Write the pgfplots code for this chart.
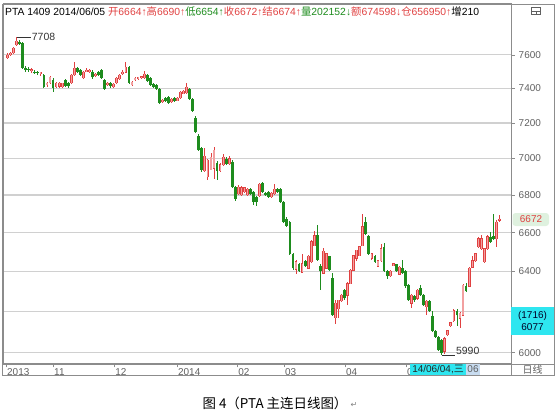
\documentclass[border=0pt]{standalone}
\usepackage{pgfplots}
\pgfplotsset{compat=1.18}
\usepackage{pgfplotstable}
\usepackage{fontspec}
\setmainfont{Liberation Sans}
\newfontfamily\cjk{Noto Sans CJK SC}
\newfontfamily\sym{DejaVu Sans}
\newcommand\hc[1]{{\cjk #1}}

\definecolor{upred}{HTML}{E04040}
\definecolor{uppink}{HTML}{F2A0A0}
\definecolor{dngreen}{HTML}{1E8C1E}
\definecolor{gridc}{HTML}{D0D0D0}
\definecolor{framec}{HTML}{8C8C8C}
\definecolor{labc}{HTML}{606060}
\definecolor{curcyan}{HTML}{2EE6F0}
\definecolor{curblue}{HTML}{C8DCF0}

% daily bars, PTA main contract: index, open, high, low, close
\pgfplotstableread{
i o h l c
0 7582 7610 7575 7600
1 7600 7620 7595 7612
2 7612 7650 7605 7642
3 7660 7708 7655 7685
4 7680 7690 7660 7668
5 7673 7680 7515 7522
6 7522 7535 7500 7512
7 7515 7530 7495 7510
8 7505 7520 7490 7512
9 7500 7510 7485 7490
10 7495 7505 7480 7492
11 7485 7500 7475 7495
12 7480 7485 7405 7410
13 7421 7440 7410 7433
14 7433 7475 7425 7468
15 7450 7460 7380 7403
16 7409 7440 7400 7433
17 7412 7440 7405 7433
18 7410 7435 7400 7430
19 7450 7455 7410 7415
20 7433 7440 7405 7412
21 7433 7485 7425 7480
22 7480 7558 7475 7522
23 7522 7530 7490 7498
24 7510 7515 7475 7480
25 7462 7505 7455 7498
26 7500 7520 7495 7510
27 7498 7515 7490 7510
28 7500 7510 7455 7465
29 7475 7490 7468 7485
30 7498 7502 7475 7480
31 7510 7515 7455 7462
32 7450 7455 7390 7398
33 7421 7440 7412 7433
34 7433 7438 7405 7412
35 7410 7432 7400 7428
36 7433 7468 7428 7462
37 7455 7485 7450 7480
38 7485 7510 7480 7498
39 7495 7558 7490 7528
40 7528 7535 7425 7433
41 7421 7445 7415 7439
42 7450 7468 7445 7462
43 7455 7470 7450 7465
44 7462 7475 7455 7470
45 7462 7505 7458 7485
46 7480 7488 7440 7445
47 7462 7468 7415 7421
48 7427 7432 7405 7410
49 7421 7425 7392 7398
50 7398 7400 7310 7316
51 7322 7340 7315 7334
52 7345 7350 7325 7330
53 7350 7355 7310 7316
54 7322 7345 7318 7340
55 7345 7350 7320 7325
56 7330 7350 7325 7345
57 7345 7385 7340 7380
58 7370 7392 7365 7385
59 7375 7433 7370 7409
60 7398 7405 7335 7340
61 7340 7345 7262 7270
62 7231 7240 7145 7149
63 7127 7135 7045 7049
64 7060 7066 6925 6939
65 6931 7060 6925 7011
66 6900 7000 6880 6990
67 6939 7030 6935 7005
68 6945 7066 6890 7049
69 6977 6985 6880 6931
70 6931 6975 6925 6966
71 6966 7025 6960 7005
72 7000 7010 6965 6970
73 6970 7015 6965 7000
74 6983 6990 6838 6842
75 6842 6848 6770 6778
76 6805 6855 6800 6842
77 6800 6850 6795 6840
78 6815 6845 6810 6840
79 6800 6835 6795 6830
80 6831 6840 6800 6805
81 6815 6820 6745 6762
82 6790 6795 6740 6760
83 6795 6865 6790 6858
84 6865 6870 6810 6815
85 6810 6815 6795 6800
86 6815 6820 6785 6790
87 6790 6815 6785 6810
88 6805 6860 6800 6831
89 6831 6836 6810 6815
90 6831 6840 6758 6762
91 6762 6768 6650 6657
92 6672 6680 6630 6636
93 6657 6662 6485 6491
94 6491 6495 6405 6415
95 6410 6460 6385 6450
96 6440 6445 6395 6400
97 6395 6491 6390 6440
98 6455 6460 6420 6425
99 6415 6482 6410 6476
100 6450 6560 6445 6553
101 6532 6610 6528 6584
102 6590 6640 6455 6460
103 6430 6435 6304 6400
104 6390 6520 6385 6502
105 6415 6495 6410 6491
106 6476 6480 6400 6405
107 6364 6390 6175 6180
108 6170 6254 6140 6239
109 6214 6258 6170 6254
110 6250 6285 6245 6280
111 6304 6310 6258 6264
112 6279 6345 6230 6339
113 6339 6410 6335 6405
114 6405 6485 6400 6481
115 6466 6510 6455 6507
116 6481 6530 6476 6527
117 6532 6699 6528 6631
118 6657 6680 6590 6595
119 6584 6590 6486 6491
120 6466 6495 6460 6491
121 6481 6486 6445 6450
122 6425 6460 6420 6455
123 6455 6543 6450 6517
124 6527 6545 6395 6400
125 6400 6405 6360 6375
126 6375 6405 6370 6400
127 6430 6445 6425 6440
128 6435 6440 6395 6400
129 6385 6425 6380 6420
130 6415 6460 6385 6390
131 6400 6405 6318 6324
132 6330 6335 6250 6254
133 6239 6285 6215 6279
134 6274 6280 6248 6254
135 6264 6310 6258 6304
136 6314 6330 6275 6279
137 6279 6284 6225 6229
138 6224 6255 6180 6249
139 6249 6254 6200 6204
140 6175 6200 6100 6106
141 6106 6110 6072 6077
142 6077 6080 6006 6011
143 6060 6065 5990 6000
144 6006 6075 5995 6068
145 6085 6110 6080 6106
146 6130 6150 6125 6145
147 6155 6210 6150 6204
148 6204 6210 6130 6180
149 6165 6195 6120 6190
150 6180 6335 6175 6330
151 6324 6340 6295 6299
152 6324 6420 6320 6415
153 6420 6481 6415 6455
154 6455 6495 6450 6491
155 6527 6575 6520 6569
156 6517 6590 6512 6569
157 6450 6522 6445 6517
158 6517 6585 6512 6579
159 6579 6605 6548 6553
160 6584 6699 6560 6569
161 6569 6665 6527 6657
162 6664 6690 6654 6672
}\kline

\pgfplotsset{
  rising/.style={restrict expr to domain={\thisrow{c}-\thisrow{o}}{0:10000}},
  falling/.style={restrict expr to domain={\thisrow{o}-\thisrow{c}}{0.5:10000}},
  candle/.style 2 args={draw=none, mark=none, forget plot,
    error bars/.cd, y dir=both, y explicit, error mark=none,
    error bar style={draw=#1, line width=#2, line cap=butt}},
}

\begin{document}
\begin{tikzpicture}[x=1bp,y=1bp]
\begin{axis}[
  at={(3bp,48bp)}, anchor=south west,
  width=508bp, height=360bp, scale only axis,
  ymode=log,
  xmin=-1.48, xmax=165.8,
  ymin=5947, ymax=7914,
  axis line style={framec, line width=0.8bp},
  ymajorgrids, grid style={gridc, line width=1.2bp},
  ytick={6000,6200,6400,6600,6800,7000,7200,7400,7600},
  yticklabels={6000,6200,6400,6600,6800,7000,7200,7400,7600},
  ytick pos=right, yticklabel pos=right,
  xtick={-0.5,15.0,35.1,55.8,75.6,91.0,111.1,131.2,151.3},
  xticklabels={2013,11,12,2014,02,03,04,05,{}},
  xtick pos=bottom,
  tick align=outside, major tick length=3.5bp,
  tick style={framec, line width=0.6bp},
  minor tick num=0, minor tick length=0pt,
  yticklabel style={anchor=west, inner sep=0pt, xshift=4bp,
    font=\fontsize{10}{10}\selectfont, text=labc},
  xticklabel style={anchor=north west, inner sep=0pt, xshift=1bp, yshift=-1.5bp,
    font=\fontsize{10}{10}\selectfont, text=labc},
  clip=true,
]
% wicks
\addplot[rising, candle={upred}{0.9bp}]
  table[x=i, y=c, y error plus expr=\thisrow{h}-\thisrow{c},
        y error minus expr=\thisrow{c}-\thisrow{l}] {\kline};
\addplot[falling, candle={dngreen}{0.9bp}]
  table[x=i, y=c, y error plus expr=\thisrow{h}-\thisrow{c},
        y error minus expr=\thisrow{c}-\thisrow{l}] {\kline};
% bodies: rising ones outlined red with a pink core, falling ones solid green
\addplot[rising, candle={upred}{2.8bp}]
  table[x=i, y expr=\thisrow{c}+1, y error plus expr=0,
        y error minus expr=\thisrow{c}-\thisrow{o}+2] {\kline};
\addplot[rising, candle={uppink}{1.1bp}]
  table[x=i, y=c, y error plus expr=0,
        y error minus expr=\thisrow{c}-\thisrow{o}] {\kline};
\addplot[falling, candle={dngreen}{2.8bp}]
  table[x=i, y=c, y error plus expr=\thisrow{o}-\thisrow{c},
        y error minus expr=0] {\kline};
% extreme marks
\draw[black!80, line width=0.6bp] (axis cs:3,7708) -- ++(14bp,0pt)
  node[right, inner sep=1bp, font=\fontsize{10.5}{10}\selectfont, text=black!80] {7708};
\draw[black!80, line width=0.6bp] (axis cs:143,5990) -- ++(13bp,0pt)
  node[right, inner sep=1bp, font=\fontsize{10.5}{10}\selectfont, text=black!80, yshift=4bp] {5990};
\end{axis}

% frame of the quote window
\draw[framec, line width=0.8bp] (2,37) rectangle (554,408);
\draw[framec, line width=0.8bp] (511,37) -- (511,408);
\draw[framec, line width=0.8bp] (2,48) -- (554,48);
\node[font=\cjk\fontsize{10}{10}\selectfont, text=labc] at (532.5,42.5) {日线};
% top-right icon
\draw[labc, line width=0.6bp] (531,397.5) rectangle (540,404.5);
\draw[labc, line width=0.6bp] (531,401) -- (540,401) (536.5,397.5) -- (536.5,401);

% header quote line
\node[anchor=base west, inner sep=0pt, font=\fontsize{10.4}{10}\selectfont] at (5,396.5)
 {PTA 1409 2014/06/05 \textcolor{upred}{\hc{开}6664↑\hc{高}6690↑}%
 \textcolor{dngreen}{\hc{低}6654↑}%
 \textcolor{upred}{\hc{收}6672↑\hc{结}6674↑}%
 \textcolor{dngreen}{\hc{量}202152↓}%
 \textcolor{upred}{\hc{额}674598↓\hc{仓}656950↑}%
 \hc{增}210};

% last price tag
\fill[green!40!gray!18, rounded corners=3bp] (512.5,186) rectangle (549,199);
\node[text=upred, font=\fontsize{10}{10}\selectfont] at (531,192.5) {6672};
% cursor value box
\fill[curcyan] (511.4,77) rectangle (554,105);
\node[text=black!85!blue, font=\fontsize{10}{10}\selectfont, align=center,
  inner sep=0pt] at (532.5,91) {(1716)\\[2.5bp]6077};
% cursor date box
\fill[curcyan] (410,37.4) rectangle (466,47.6);
\node[font=\fontsize{10}{10}\selectfont, text=black!85, inner sep=0pt] at (438,42.5)
  {14/06/04,\hc{三}};
\fill[curblue] (466,37.4) rectangle (480,47.6);
\node[font=\fontsize{10}{10}\selectfont, text=labc, inner sep=0pt] at (473,42.5) {06};

% caption
\node[font=\cjk\fontsize{13.5}{13.5}\selectfont, anchor=base] at (275,4)
  {图 4（PTA 主连日线图）};
\node[font=\sym\fontsize{8}{8}\selectfont, text=black!50, anchor=base] at (354,5) {↵};

\pgfresetboundingbox
\path (0,0) rectangle (557,412);
\end{tikzpicture}
\end{document}
